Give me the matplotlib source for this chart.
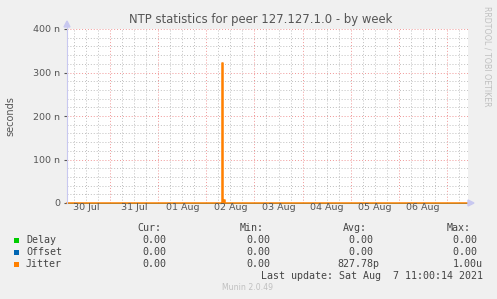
import matplotlib
matplotlib.use("Agg")
import matplotlib.pyplot as plt
from matplotlib.patches import Rectangle
import pandas as pd

# series data (nanoseconds), 30-minute rrd steps
times = pd.to_datetime(["2021-07-30 02:30", "2021-08-02 07:30", "2021-08-02 08:00",
                        "2021-08-02 08:30", "2021-08-02 09:00", "2021-08-02 09:30",
                        "2021-08-07 10:30"])
delay_ns = [0, 0, 0, 0, 0, 0, 0]
offset_ns = [0, 0, 1.5, 0, 0, 0, 0]
jitter_ns = [0, 0, 322, 0, 6, 0, 0]

series_names = ["Delay", "Offset", "Jitter"]
series_colors = ["#00CC00", "#0066B3", "#FF8000"]
cur_vals = ["0.00", "0.00", "0.00"]
min_vals = ["0.00", "0.00", "0.00"]
avg_vals = ["0.00", "0.00", "827.78p"]
max_vals = ["0.00", "0.00", "1.00u"]

day_labels = ["30 Jul", "31 Jul", "01 Aug", "02 Aug", "03 Aug", "04 Aug", "05 Aug", "06 Aug"]
y_ticks = [0, 100, 200, 300, 400]
y_labels = ["0", "100 n", "200 n", "300 n", "400 n"]

W, H = 497, 299
t0 = pd.Timestamp("2021-07-30 02:30")
t1 = pd.Timestamp("2021-08-07 10:30")

fig = plt.figure(figsize=(W / 100, H / 100), dpi=100, facecolor="#F0F0F0")


def fx(px):
    return px / W


def fy(py):
    return 1 - py / H


ax = fig.add_axes([fx(67), fy(203), fx(401), (203 - 29) / H])
ax.set_facecolor("white")

widths = [0.5, 0.5, 1.1]
for vals, col, lw in zip([delay_ns, offset_ns, jitter_ns], series_colors, widths):
    ax.step(times, vals, where="post", color=col, lw=lw, zorder=3, clip_on=False)

ax.set_xlim(t0, t1)
ax.set_ylim(0, 400)

# grid
red = (0.92, 0.45, 0.45, 0.75)
grey = (0.75, 0.75, 0.75)
for t in pd.date_range("2021-07-30 06:00", t1, freq="6h"):
    c = red if t.hour == 0 else grey
    ax.axvline(t, color=c, lw=0.7, ls=(0, (1, 2)), zorder=1)
for v in range(20, 401, 20):
    c = red if v % 100 == 0 else grey
    ax.axhline(v, color=c, lw=0.7, ls=(0, (1, 2)), zorder=1)

ax.set_yticks(y_ticks)
ax.set_yticklabels(y_labels)
ax.set_xticks([])
for i, lab in enumerate(day_labels):
    noon = pd.Timestamp("2021-07-30 12:00") + pd.Timedelta(days=i)
    ax.text(noon, -10, lab, ha="center", va="center", fontsize=6.8, color="#555555")

ax.tick_params(axis="y", length=2, colors="#555555", labelsize=6.8, pad=3)
for s in ax.spines.values():
    s.set_visible(False)

# axis lines with arrows
axis_col = "#C8C8F0"
fig.add_artist(plt.Line2D([fx(67), fx(67)], [fy(203), fy(24)], color=axis_col, lw=0.8))
fig.add_artist(plt.Line2D([fx(468), fx(471)], [fy(203), fy(203)], color=axis_col, lw=0.8))
fig.add_artist(plt.Polygon([[fx(64), fy(27)], [fx(70), fy(27)], [fx(67), fy(21)]],
                           closed=True, color=axis_col, transform=fig.transFigure))
fig.add_artist(plt.Polygon([[fx(468), fy(200)], [fx(468), fy(206)], [fx(474), fy(203)]],
                           closed=True, color=axis_col, transform=fig.transFigure))

fig.text(fx(261), fy(19), "NTP statistics for peer 127.127.1.0 - by week",
         ha="center", va="center", fontsize=8.4, color="#555555")
fig.text(fx(10), fy(116), "seconds", rotation=90, ha="center", va="center",
         fontsize=7, color="#555555")
fig.text(fx(487), fy(56), "RRDTOOL / TOBI OETIKER", rotation=270, ha="center",
         va="center", fontsize=5.7, color="#C0C0C0")
fig.text(fx(248), fy(288), "Munin 2.0.49", ha="center", va="center",
         fontsize=5.6, color="#C0C0C0")

mono = dict(family="DejaVu Sans Mono", fontsize=7.2, color="#444444", va="center")
for x, h in zip([137, 240, 343, 447], ["Cur:", "Min:", "Avg:", "Max:"]):
    fig.text(fx(x), fy(228), h, **mono)
rows_y = [240, 252, 264]
for i, y in enumerate(rows_y):
    fig.add_artist(Rectangle((fx(14), fy(y + 3)), fx(5), 5 / H,
                             facecolor=series_colors[i], edgecolor="none",
                             transform=fig.transFigure))
    fig.text(fx(26), fy(y), series_names[i], **mono)
    fig.text(fx(166), fy(y), cur_vals[i], ha="right", **mono)
    fig.text(fx(270), fy(y), min_vals[i], ha="right", **mono)
    a = avg_vals[i] if avg_vals[i][-1].isalpha() else avg_vals[i] + " "
    m = max_vals[i] if max_vals[i][-1].isalpha() else max_vals[i] + " "
    fig.text(fx(379), fy(y), a, ha="right", **mono)
    fig.text(fx(483), fy(y), m, ha="right", **mono)
fig.text(fx(483), fy(276), "Last update: Sat Aug  7 11:00:14 2021", ha="right", **mono)

fig.savefig("out.png", dpi=100, facecolor=fig.get_facecolor())
